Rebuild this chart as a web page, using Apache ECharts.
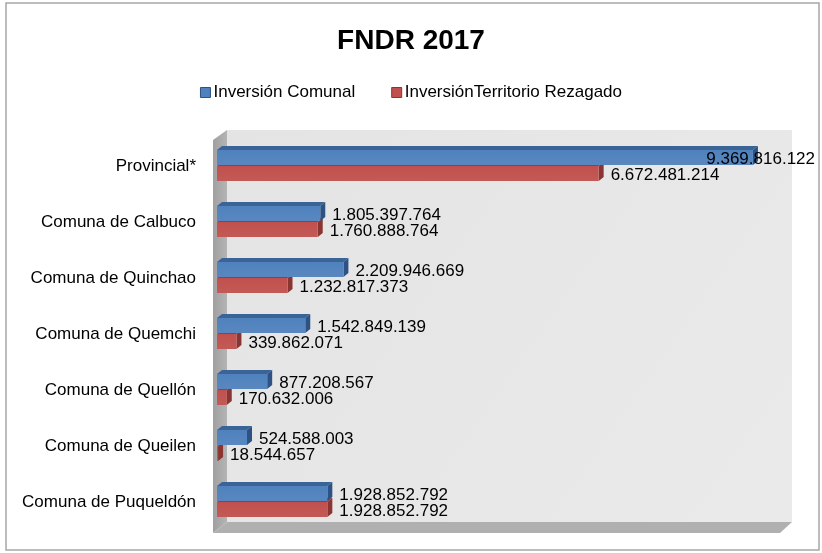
<!DOCTYPE html>
<html lang="es">
<head>
    <meta charset="utf-8">
    <title>FNDR 2017</title>
    <script src="https://cdn.jsdelivr.net/npm/echarts@6/dist/echarts.min.js"></script>
    <style>
        html, body, #chart { width: 100%; height: 100%; margin: 0; padding: 0; overflow: hidden; background: #fff; }
    </style>
</head>
<body>
<div id="chart"></div>
<script>
var categories = ['Provincial*', 'Comuna de Calbuco', 'Comuna de Quinchao', 'Comuna de Quemchi',
    'Comuna de Quellón', 'Comuna de Queilen', 'Comuna de Puqueldón'];
var comunal = [9369816122, 1805397764, 2209946669, 1542849139, 877208567, 524588003, 1928852792];
var rezagado = [6672481214, 1760888764, 1232817373, 339862071, 170632006, 18544657, 1928852792];
var seriesNames = ['Inversión Comunal', 'InversiónTerritorio Rezagado'];

// formato chileno con puntos
function fmt(v) {
    return String(v).replace(/\B(?=(\d{3})+(?!\d))/g, '.');
}

var palette = [
    { front: '#4F81BD', top: '#3B6496', side: '#2E5283' },
    { front: '#C0504D', top: '#973D3A', side: '#8A3532' }
];

function makeRender(which) {
    var c = palette[which];
    return function (params, api) {
        var idx = api.value(1);
        var v = api.value(0);
        var p0 = api.coord([0, idx]);
        var p1 = api.coord([v, idx]);
        var h = 15, dx = 5, dy = -4;
        var y0 = which === 0 ? p0[1] - 16 : p0[1];
        var x0 = p0[0], x1 = p1[0];
        var children = [
            { type: 'polygon', shape: { points: [[x0, y0], [x0 + dx, y0 + dy], [x1 + dx, y0 + dy], [x1, y0]] },
              style: { fill: c.top } },
            { type: 'polygon', shape: { points: [[x1, y0], [x1 + dx, y0 + dy], [x1 + dx, y0 + h + dy], [x1, y0 + h]] },
              style: { fill: c.side } },
            { type: 'rect', shape: { x: x0, y: y0, width: x1 - x0, height: h },
              style: { fill: new echarts.graphic.LinearGradient(0, 0, 0, 1, [
                  { offset: 0, color: c.front }, { offset: 1, color: echarts.color.lift(c.front, 0.06) }]) } }
        ];
        var lx = x1 + 12, align = 'left';
        if (x1 > 680) { lx = 815; align = 'right'; }
        children.push({
            type: 'text', z2: 10,
            style: { x: lx, y: y0 + h / 2 + 2, text: fmt(v), align: align, verticalAlign: 'middle',
                     fill: '#000', fontSize: 17, fontFamily: 'Liberation Sans' }
        });
        return { type: 'group', children: children };
    };
}

function toData(arr) {
    return arr.map(function (v, i) { return [v, i]; });
}

var chart = echarts.init(document.getElementById('chart'));
var option = {
    animation: false,
    textStyle: { fontFamily: 'Liberation Sans' },
    title: {
        text: 'FNDR 2017', left: 'center', top: 22,
        textStyle: { fontSize: 28, fontWeight: 'bold', color: '#000', fontFamily: 'Liberation Sans' }
    },
    legend: {
        data: [
            { name: seriesNames[0], itemStyle: { color: palette[0].front, borderColor: '#2E5283', borderWidth: 1 } },
            { name: seriesNames[1], itemStyle: { color: palette[1].front, borderColor: '#8A3532', borderWidth: 1 } }
        ],
        top: 79, left: 'center', icon: 'rect', itemWidth: 10, itemHeight: 10, itemGap: 36,
        textStyle: { fontSize: 17, color: '#000', padding: [0, 0, 0, -2] }
    },
    graphic: [
        { type: 'rect', shape: { x: 6, y: 3, width: 813, height: 547 }, style: { fill: 'none', stroke: '#A6A6A6', lineWidth: 1.5 }, z: -10 },
        { type: 'rect', shape: { x: 227, y: 130, width: 565, height: 392 },
          style: { fill: new echarts.graphic.LinearGradient(0, 0, 1, 1, [{ offset: 0, color: '#E4E4E4' }, { offset: 1, color: '#EAEAEA' }]) }, z: -5 },
        { type: 'polygon', shape: { points: [[213, 140], [227, 130], [227, 522], [213, 533]] },
          style: { fill: new echarts.graphic.LinearGradient(0, 0, 1, 0, [{ offset: 0, color: '#A0A0A0' }, { offset: 1, color: '#B4B4B4' }]) }, z: -4 },
        { type: 'polygon', shape: { points: [[213, 533], [227, 522], [792, 522], [780, 533]] },
          style: { fill: '#B0B0B0' }, z: -4 }
    ],
    grid: { left: 217, right: 33, top: 138, bottom: 23 },
    xAxis: { type: 'value', min: 0, max: 10000000000, show: false },
    yAxis: {
        type: 'category', data: categories, inverse: true,
        axisLine: { show: false }, axisTick: { show: false },
        axisLabel: { fontSize: 17, color: '#000', margin: 21 }
    },
    series: [
        { name: seriesNames[1], type: 'custom', color: palette[1].front, itemStyle: { color: palette[1].front },
          renderItem: makeRender(1), encode: { x: 0, y: 1 }, data: toData(rezagado), z: 2 },
        { name: seriesNames[0], type: 'custom', color: palette[0].front, itemStyle: { color: palette[0].front },
          renderItem: makeRender(0), encode: { x: 0, y: 1 }, data: toData(comunal), z: 3 }
    ]
};
chart.setOption(option);
</script>
</body>
</html>
